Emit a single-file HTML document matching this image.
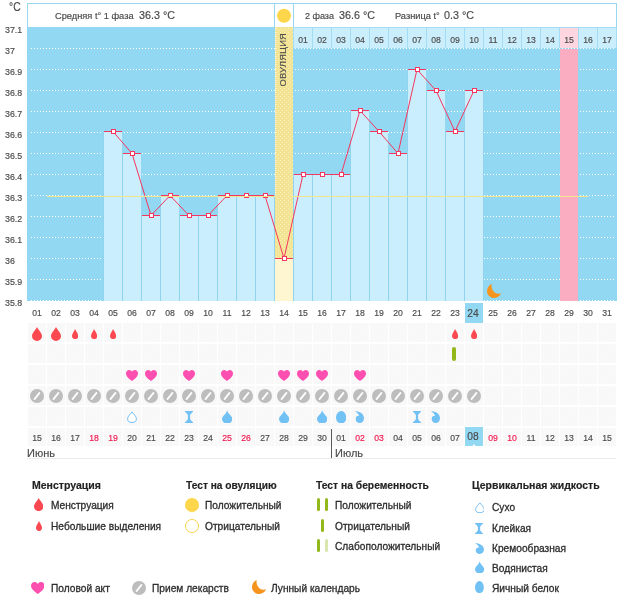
<!DOCTYPE html>
<html><head><meta charset="utf-8"><title>chart</title>
<style>
html,body{margin:0;padding:0;background:#fff;}
body{width:626px;height:595px;position:relative;overflow:hidden;font-family:"Liberation Sans",sans-serif;}
</style></head><body>
<svg width="626" height="595" viewBox="0 0 626 595" style="position:absolute;left:0;top:0" shape-rendering="crispEdges">
<defs>
<pattern id="ovd" width="4" height="4" patternUnits="userSpaceOnUse"><rect width="4" height="4" fill="#f3e493"/><rect x="0" y="0" width="1" height="1" fill="#f9f0c4"/><rect x="2" y="2" width="1" height="1" fill="#f9f0c4"/></pattern>
<pattern id="bard" width="4" height="4" patternUnits="userSpaceOnUse"><rect width="4" height="4" fill="#cbeefc"/><rect x="1" y="1" width="1" height="1" fill="#c7ecfb"/><rect x="3" y="3" width="1" height="1" fill="#c7ecfb"/></pattern>
<pattern id="hatch" width="3" height="3" patternUnits="userSpaceOnUse"><rect width="3" height="3" fill="#f7f7f7"/><rect x="0" y="2" width="1" height="1" fill="#fbfbfb"/><rect x="1" y="1" width="1" height="1" fill="#fbfbfb"/><rect x="2" y="0" width="1" height="1" fill="#fbfbfb"/></pattern>
</defs>
<rect x="27.5" y="3.5" width="589" height="24" fill="#fff" stroke="#97d7f2" stroke-width="1"/>
<rect x="27" y="27" width="590" height="274" fill="#93d8f3"/>
<rect x="616" y="27" width="1" height="21" fill="#a4dcf4"/>
<rect x="293" y="27" width="19" height="21" fill="#a4dcf4"/>
<rect x="294" y="28" width="18" height="20" fill="#cbeefc"/>
<rect x="312" y="27" width="19" height="21" fill="#a4dcf4"/>
<rect x="313" y="28" width="18" height="20" fill="#cbeefc"/>
<rect x="331" y="27" width="19" height="21" fill="#a4dcf4"/>
<rect x="332" y="28" width="18" height="20" fill="#cbeefc"/>
<rect x="350" y="27" width="19" height="21" fill="#a4dcf4"/>
<rect x="351" y="28" width="18" height="20" fill="#cbeefc"/>
<rect x="369" y="27" width="19" height="21" fill="#a4dcf4"/>
<rect x="370" y="28" width="18" height="20" fill="#cbeefc"/>
<rect x="388" y="27" width="19" height="21" fill="#a4dcf4"/>
<rect x="389" y="28" width="18" height="20" fill="#cbeefc"/>
<rect x="407" y="27" width="19" height="21" fill="#a4dcf4"/>
<rect x="408" y="28" width="18" height="20" fill="#cbeefc"/>
<rect x="426" y="27" width="19" height="21" fill="#a4dcf4"/>
<rect x="427" y="28" width="18" height="20" fill="#cbeefc"/>
<rect x="445" y="27" width="19" height="21" fill="#a4dcf4"/>
<rect x="446" y="28" width="18" height="20" fill="#cbeefc"/>
<rect x="464" y="27" width="19" height="21" fill="#a4dcf4"/>
<rect x="465" y="28" width="18" height="20" fill="#cbeefc"/>
<rect x="483" y="27" width="19" height="21" fill="#a4dcf4"/>
<rect x="484" y="28" width="18" height="20" fill="#cbeefc"/>
<rect x="502" y="27" width="19" height="21" fill="#a4dcf4"/>
<rect x="503" y="28" width="18" height="20" fill="#cbeefc"/>
<rect x="521" y="27" width="19" height="21" fill="#a4dcf4"/>
<rect x="522" y="28" width="18" height="20" fill="#cbeefc"/>
<rect x="540" y="27" width="19" height="21" fill="#a4dcf4"/>
<rect x="541" y="28" width="18" height="20" fill="#cbeefc"/>
<rect x="559" y="27" width="19" height="21" fill="#a4dcf4"/>
<rect x="560" y="28" width="18" height="20" fill="#fdd6df"/>
<rect x="578" y="27" width="19" height="21" fill="#a4dcf4"/>
<rect x="579" y="28" width="18" height="20" fill="#cbeefc"/>
<rect x="597" y="27" width="19" height="21" fill="#a4dcf4"/>
<rect x="598" y="28" width="18" height="20" fill="#cbeefc"/>
<line x1="31" x2="615" y1="48.5" y2="48.5" stroke="#fff" stroke-width="1" stroke-dasharray="1 2"/>
<line x1="31" x2="615" y1="69.5" y2="69.5" stroke="#fff" stroke-width="1" stroke-dasharray="1 2"/>
<line x1="31" x2="615" y1="90.5" y2="90.5" stroke="#fff" stroke-width="1" stroke-dasharray="1 2"/>
<line x1="31" x2="615" y1="111.5" y2="111.5" stroke="#fff" stroke-width="1" stroke-dasharray="1 2"/>
<line x1="31" x2="615" y1="132.5" y2="132.5" stroke="#fff" stroke-width="1" stroke-dasharray="1 2"/>
<line x1="31" x2="615" y1="153.5" y2="153.5" stroke="#fff" stroke-width="1" stroke-dasharray="1 2"/>
<line x1="31" x2="615" y1="174.5" y2="174.5" stroke="#fff" stroke-width="1" stroke-dasharray="1 2"/>
<line x1="31" x2="615" y1="195.5" y2="195.5" stroke="#fff" stroke-width="1" stroke-dasharray="1 2"/>
<line x1="31" x2="615" y1="216.5" y2="216.5" stroke="#fff" stroke-width="1" stroke-dasharray="1 2"/>
<line x1="31" x2="615" y1="237.5" y2="237.5" stroke="#fff" stroke-width="1" stroke-dasharray="1 2"/>
<line x1="31" x2="615" y1="258.5" y2="258.5" stroke="#fff" stroke-width="1" stroke-dasharray="1 2"/>
<line x1="31" x2="615" y1="279.5" y2="279.5" stroke="#fff" stroke-width="1" stroke-dasharray="1 2"/>
<line x1="31" x2="615" y1="300.5" y2="300.5" stroke="#fff" stroke-width="1" stroke-dasharray="1 2"/>
<rect x="560" y="49" width="18" height="252" fill="#faadc1"/>
<rect x="103" y="131" width="1" height="170" fill="#8fd3ee"/>
<rect x="104" y="131" width="18" height="170" fill="url(#bard)"/>
<rect x="122" y="153" width="1" height="148" fill="#8fd3ee"/>
<rect x="123" y="153" width="18" height="148" fill="url(#bard)"/>
<rect x="141" y="215" width="1" height="86" fill="#8fd3ee"/>
<rect x="142" y="215" width="18" height="86" fill="url(#bard)"/>
<rect x="160" y="195" width="1" height="106" fill="#8fd3ee"/>
<rect x="161" y="195" width="18" height="106" fill="url(#bard)"/>
<rect x="179" y="215" width="1" height="86" fill="#8fd3ee"/>
<rect x="180" y="215" width="18" height="86" fill="url(#bard)"/>
<rect x="198" y="215" width="1" height="86" fill="#8fd3ee"/>
<rect x="199" y="215" width="18" height="86" fill="url(#bard)"/>
<rect x="217" y="195" width="1" height="106" fill="#8fd3ee"/>
<rect x="218" y="195" width="18" height="106" fill="url(#bard)"/>
<rect x="236" y="195" width="1" height="106" fill="#8fd3ee"/>
<rect x="237" y="195" width="18" height="106" fill="url(#bard)"/>
<rect x="255" y="195" width="1" height="106" fill="#8fd3ee"/>
<rect x="256" y="195" width="18" height="106" fill="url(#bard)"/>
<rect x="293" y="174" width="1" height="127" fill="#8fd3ee"/>
<rect x="294" y="174" width="18" height="127" fill="url(#bard)"/>
<rect x="312" y="174" width="1" height="127" fill="#8fd3ee"/>
<rect x="313" y="174" width="18" height="127" fill="url(#bard)"/>
<rect x="331" y="174" width="1" height="127" fill="#8fd3ee"/>
<rect x="332" y="174" width="18" height="127" fill="url(#bard)"/>
<rect x="350" y="110" width="1" height="191" fill="#8fd3ee"/>
<rect x="351" y="110" width="18" height="191" fill="url(#bard)"/>
<rect x="369" y="131" width="1" height="170" fill="#8fd3ee"/>
<rect x="370" y="131" width="18" height="170" fill="url(#bard)"/>
<rect x="388" y="153" width="1" height="148" fill="#8fd3ee"/>
<rect x="389" y="153" width="18" height="148" fill="url(#bard)"/>
<rect x="407" y="69" width="1" height="232" fill="#8fd3ee"/>
<rect x="408" y="69" width="18" height="232" fill="url(#bard)"/>
<rect x="426" y="90" width="1" height="211" fill="#8fd3ee"/>
<rect x="427" y="90" width="18" height="211" fill="url(#bard)"/>
<rect x="445" y="131" width="1" height="170" fill="#8fd3ee"/>
<rect x="446" y="131" width="18" height="170" fill="url(#bard)"/>
<rect x="464" y="90" width="1" height="211" fill="#8fd3ee"/>
<rect x="465" y="90" width="18" height="211" fill="url(#bard)"/>
<rect x="483" y="90" width="1" height="211" fill="#8fd3ee"/>
<rect x="274" y="195" width="1" height="106" fill="#8fd3ee"/>
<rect x="275" y="4" width="18" height="23" fill="#fff"/>
<rect x="274" y="4" width="1" height="23" fill="#97d7f2"/><rect x="293" y="4" width="1" height="23" fill="#97d7f2"/>
<rect x="275" y="27" width="18" height="231" fill="url(#ovd)"/>
<rect x="275" y="258" width="18" height="43" fill="#fdf6d0"/>
<line x1="275.5" x2="275.5" y1="28" y2="195" stroke="#fbf6dc" stroke-width="1" stroke-dasharray="1 1"/>
<polyline points="113,131.5 132,153.5 151,215.5 170,195.5 189,215.5 208,215.5 227,195.5 246,195.5 265,195.5 284,258.5 303,174.5 322,174.5 341,174.5 360,110.5 379,131.5 398,153.5 417,69.5 436,90.5 455,131.5 474,90.5" fill="none" stroke="#f5365f" stroke-width="1" shape-rendering="geometricPrecision"/>
<rect x="104" y="131" width="18" height="1" fill="#f5365f"/>
<rect x="123" y="153" width="18" height="1" fill="#f5365f"/>
<rect x="142" y="215" width="18" height="1" fill="#f5365f"/>
<rect x="161" y="195" width="18" height="1" fill="#f5365f"/>
<rect x="180" y="215" width="18" height="1" fill="#f5365f"/>
<rect x="199" y="215" width="18" height="1" fill="#f5365f"/>
<rect x="218" y="195" width="18" height="1" fill="#f5365f"/>
<rect x="237" y="195" width="18" height="1" fill="#f5365f"/>
<rect x="256" y="195" width="18" height="1" fill="#f5365f"/>
<rect x="275" y="258" width="18" height="1" fill="#f5365f"/>
<rect x="294" y="174" width="18" height="1" fill="#f5365f"/>
<rect x="313" y="174" width="18" height="1" fill="#f5365f"/>
<rect x="332" y="174" width="18" height="1" fill="#f5365f"/>
<rect x="351" y="110" width="18" height="1" fill="#f5365f"/>
<rect x="370" y="131" width="18" height="1" fill="#f5365f"/>
<rect x="389" y="153" width="18" height="1" fill="#f5365f"/>
<rect x="408" y="69" width="18" height="1" fill="#f5365f"/>
<rect x="427" y="90" width="18" height="1" fill="#f5365f"/>
<rect x="446" y="131" width="18" height="1" fill="#f5365f"/>
<rect x="465" y="90" width="18" height="1" fill="#f5365f"/>
<rect x="110.5" y="129" width="5" height="5" fill="#f5365f"/><rect x="111.5" y="130" width="3" height="3" fill="#fff"/>
<rect x="129.5" y="151" width="5" height="5" fill="#f5365f"/><rect x="130.5" y="152" width="3" height="3" fill="#fff"/>
<rect x="148.5" y="213" width="5" height="5" fill="#f5365f"/><rect x="149.5" y="214" width="3" height="3" fill="#fff"/>
<rect x="167.5" y="193" width="5" height="5" fill="#f5365f"/><rect x="168.5" y="194" width="3" height="3" fill="#fff"/>
<rect x="186.5" y="213" width="5" height="5" fill="#f5365f"/><rect x="187.5" y="214" width="3" height="3" fill="#fff"/>
<rect x="205.5" y="213" width="5" height="5" fill="#f5365f"/><rect x="206.5" y="214" width="3" height="3" fill="#fff"/>
<rect x="224.5" y="193" width="5" height="5" fill="#f5365f"/><rect x="225.5" y="194" width="3" height="3" fill="#fff"/>
<rect x="243.5" y="193" width="5" height="5" fill="#f5365f"/><rect x="244.5" y="194" width="3" height="3" fill="#fff"/>
<rect x="262.5" y="193" width="5" height="5" fill="#f5365f"/><rect x="263.5" y="194" width="3" height="3" fill="#fff"/>
<rect x="281.5" y="256" width="5" height="5" fill="#f5365f"/><rect x="282.5" y="257" width="3" height="3" fill="#fff"/>
<rect x="300.5" y="172" width="5" height="5" fill="#f5365f"/><rect x="301.5" y="173" width="3" height="3" fill="#fff"/>
<rect x="319.5" y="172" width="5" height="5" fill="#f5365f"/><rect x="320.5" y="173" width="3" height="3" fill="#fff"/>
<rect x="338.5" y="172" width="5" height="5" fill="#f5365f"/><rect x="339.5" y="173" width="3" height="3" fill="#fff"/>
<rect x="357.5" y="108" width="5" height="5" fill="#f5365f"/><rect x="358.5" y="109" width="3" height="3" fill="#fff"/>
<rect x="376.5" y="129" width="5" height="5" fill="#f5365f"/><rect x="377.5" y="130" width="3" height="3" fill="#fff"/>
<rect x="395.5" y="151" width="5" height="5" fill="#f5365f"/><rect x="396.5" y="152" width="3" height="3" fill="#fff"/>
<rect x="414.5" y="67" width="5" height="5" fill="#f5365f"/><rect x="415.5" y="68" width="3" height="3" fill="#fff"/>
<rect x="433.5" y="88" width="5" height="5" fill="#f5365f"/><rect x="434.5" y="89" width="3" height="3" fill="#fff"/>
<rect x="452.5" y="129" width="5" height="5" fill="#f5365f"/><rect x="453.5" y="130" width="3" height="3" fill="#fff"/>
<rect x="471.5" y="88" width="5" height="5" fill="#f5365f"/><rect x="472.5" y="89" width="3" height="3" fill="#fff"/>
<rect x="47" y="196" width="228" height="1" fill="#f2e58c"/><rect x="293" y="196" width="295" height="1" fill="#f2e58c"/>
<circle cx="284" cy="15.7" r="7" fill="#fdd64b" shape-rendering="geometricPrecision"/>
<rect x="465" y="303" width="18" height="20" fill="#93d8f3"/>
<rect x="28" y="323" width="18" height="19" fill="url(#hatch)"/>
<rect x="47" y="323" width="18" height="19" fill="url(#hatch)"/>
<rect x="66" y="323" width="18" height="19" fill="url(#hatch)"/>
<rect x="85" y="323" width="18" height="19" fill="url(#hatch)"/>
<rect x="104" y="323" width="18" height="19" fill="url(#hatch)"/>
<rect x="123" y="323" width="18" height="19" fill="url(#hatch)"/>
<rect x="142" y="323" width="18" height="19" fill="url(#hatch)"/>
<rect x="161" y="323" width="18" height="19" fill="url(#hatch)"/>
<rect x="180" y="323" width="18" height="19" fill="url(#hatch)"/>
<rect x="199" y="323" width="18" height="19" fill="url(#hatch)"/>
<rect x="218" y="323" width="18" height="19" fill="url(#hatch)"/>
<rect x="237" y="323" width="18" height="19" fill="url(#hatch)"/>
<rect x="256" y="323" width="18" height="19" fill="url(#hatch)"/>
<rect x="275" y="323" width="18" height="19" fill="url(#hatch)"/>
<rect x="294" y="323" width="18" height="19" fill="url(#hatch)"/>
<rect x="313" y="323" width="18" height="19" fill="url(#hatch)"/>
<rect x="332" y="323" width="18" height="19" fill="url(#hatch)"/>
<rect x="351" y="323" width="18" height="19" fill="url(#hatch)"/>
<rect x="370" y="323" width="18" height="19" fill="url(#hatch)"/>
<rect x="389" y="323" width="18" height="19" fill="url(#hatch)"/>
<rect x="408" y="323" width="18" height="19" fill="url(#hatch)"/>
<rect x="427" y="323" width="18" height="19" fill="url(#hatch)"/>
<rect x="446" y="323" width="18" height="19" fill="url(#hatch)"/>
<rect x="465" y="323" width="18" height="19" fill="url(#hatch)"/>
<rect x="484" y="323" width="18" height="19" fill="url(#hatch)"/>
<rect x="503" y="323" width="18" height="19" fill="url(#hatch)"/>
<rect x="522" y="323" width="18" height="19" fill="url(#hatch)"/>
<rect x="541" y="323" width="18" height="19" fill="url(#hatch)"/>
<rect x="560" y="323" width="18" height="19" fill="url(#hatch)"/>
<rect x="579" y="323" width="18" height="19" fill="url(#hatch)"/>
<rect x="598" y="323" width="18" height="19" fill="url(#hatch)"/>
<rect x="28" y="344" width="18" height="19" fill="url(#hatch)"/>
<rect x="47" y="344" width="18" height="19" fill="url(#hatch)"/>
<rect x="66" y="344" width="18" height="19" fill="url(#hatch)"/>
<rect x="85" y="344" width="18" height="19" fill="url(#hatch)"/>
<rect x="104" y="344" width="18" height="19" fill="url(#hatch)"/>
<rect x="123" y="344" width="18" height="19" fill="url(#hatch)"/>
<rect x="142" y="344" width="18" height="19" fill="url(#hatch)"/>
<rect x="161" y="344" width="18" height="19" fill="url(#hatch)"/>
<rect x="180" y="344" width="18" height="19" fill="url(#hatch)"/>
<rect x="199" y="344" width="18" height="19" fill="url(#hatch)"/>
<rect x="218" y="344" width="18" height="19" fill="url(#hatch)"/>
<rect x="237" y="344" width="18" height="19" fill="url(#hatch)"/>
<rect x="256" y="344" width="18" height="19" fill="url(#hatch)"/>
<rect x="275" y="344" width="18" height="19" fill="url(#hatch)"/>
<rect x="294" y="344" width="18" height="19" fill="url(#hatch)"/>
<rect x="313" y="344" width="18" height="19" fill="url(#hatch)"/>
<rect x="332" y="344" width="18" height="19" fill="url(#hatch)"/>
<rect x="351" y="344" width="18" height="19" fill="url(#hatch)"/>
<rect x="370" y="344" width="18" height="19" fill="url(#hatch)"/>
<rect x="389" y="344" width="18" height="19" fill="url(#hatch)"/>
<rect x="408" y="344" width="18" height="19" fill="url(#hatch)"/>
<rect x="427" y="344" width="18" height="19" fill="url(#hatch)"/>
<rect x="446" y="344" width="18" height="19" fill="url(#hatch)"/>
<rect x="465" y="344" width="18" height="19" fill="url(#hatch)"/>
<rect x="484" y="344" width="18" height="19" fill="url(#hatch)"/>
<rect x="503" y="344" width="18" height="19" fill="url(#hatch)"/>
<rect x="522" y="344" width="18" height="19" fill="url(#hatch)"/>
<rect x="541" y="344" width="18" height="19" fill="url(#hatch)"/>
<rect x="560" y="344" width="18" height="19" fill="url(#hatch)"/>
<rect x="579" y="344" width="18" height="19" fill="url(#hatch)"/>
<rect x="598" y="344" width="18" height="19" fill="url(#hatch)"/>
<rect x="28" y="365" width="18" height="19" fill="url(#hatch)"/>
<rect x="47" y="365" width="18" height="19" fill="url(#hatch)"/>
<rect x="66" y="365" width="18" height="19" fill="url(#hatch)"/>
<rect x="85" y="365" width="18" height="19" fill="url(#hatch)"/>
<rect x="104" y="365" width="18" height="19" fill="url(#hatch)"/>
<rect x="123" y="365" width="18" height="19" fill="url(#hatch)"/>
<rect x="142" y="365" width="18" height="19" fill="url(#hatch)"/>
<rect x="161" y="365" width="18" height="19" fill="url(#hatch)"/>
<rect x="180" y="365" width="18" height="19" fill="url(#hatch)"/>
<rect x="199" y="365" width="18" height="19" fill="url(#hatch)"/>
<rect x="218" y="365" width="18" height="19" fill="url(#hatch)"/>
<rect x="237" y="365" width="18" height="19" fill="url(#hatch)"/>
<rect x="256" y="365" width="18" height="19" fill="url(#hatch)"/>
<rect x="275" y="365" width="18" height="19" fill="url(#hatch)"/>
<rect x="294" y="365" width="18" height="19" fill="url(#hatch)"/>
<rect x="313" y="365" width="18" height="19" fill="url(#hatch)"/>
<rect x="332" y="365" width="18" height="19" fill="url(#hatch)"/>
<rect x="351" y="365" width="18" height="19" fill="url(#hatch)"/>
<rect x="370" y="365" width="18" height="19" fill="url(#hatch)"/>
<rect x="389" y="365" width="18" height="19" fill="url(#hatch)"/>
<rect x="408" y="365" width="18" height="19" fill="url(#hatch)"/>
<rect x="427" y="365" width="18" height="19" fill="url(#hatch)"/>
<rect x="446" y="365" width="18" height="19" fill="url(#hatch)"/>
<rect x="465" y="365" width="18" height="19" fill="url(#hatch)"/>
<rect x="484" y="365" width="18" height="19" fill="url(#hatch)"/>
<rect x="503" y="365" width="18" height="19" fill="url(#hatch)"/>
<rect x="522" y="365" width="18" height="19" fill="url(#hatch)"/>
<rect x="541" y="365" width="18" height="19" fill="url(#hatch)"/>
<rect x="560" y="365" width="18" height="19" fill="url(#hatch)"/>
<rect x="579" y="365" width="18" height="19" fill="url(#hatch)"/>
<rect x="598" y="365" width="18" height="19" fill="url(#hatch)"/>
<rect x="28" y="386" width="18" height="19" fill="url(#hatch)"/>
<rect x="47" y="386" width="18" height="19" fill="url(#hatch)"/>
<rect x="66" y="386" width="18" height="19" fill="url(#hatch)"/>
<rect x="85" y="386" width="18" height="19" fill="url(#hatch)"/>
<rect x="104" y="386" width="18" height="19" fill="url(#hatch)"/>
<rect x="123" y="386" width="18" height="19" fill="url(#hatch)"/>
<rect x="142" y="386" width="18" height="19" fill="url(#hatch)"/>
<rect x="161" y="386" width="18" height="19" fill="url(#hatch)"/>
<rect x="180" y="386" width="18" height="19" fill="url(#hatch)"/>
<rect x="199" y="386" width="18" height="19" fill="url(#hatch)"/>
<rect x="218" y="386" width="18" height="19" fill="url(#hatch)"/>
<rect x="237" y="386" width="18" height="19" fill="url(#hatch)"/>
<rect x="256" y="386" width="18" height="19" fill="url(#hatch)"/>
<rect x="275" y="386" width="18" height="19" fill="url(#hatch)"/>
<rect x="294" y="386" width="18" height="19" fill="url(#hatch)"/>
<rect x="313" y="386" width="18" height="19" fill="url(#hatch)"/>
<rect x="332" y="386" width="18" height="19" fill="url(#hatch)"/>
<rect x="351" y="386" width="18" height="19" fill="url(#hatch)"/>
<rect x="370" y="386" width="18" height="19" fill="url(#hatch)"/>
<rect x="389" y="386" width="18" height="19" fill="url(#hatch)"/>
<rect x="408" y="386" width="18" height="19" fill="url(#hatch)"/>
<rect x="427" y="386" width="18" height="19" fill="url(#hatch)"/>
<rect x="446" y="386" width="18" height="19" fill="url(#hatch)"/>
<rect x="465" y="386" width="18" height="19" fill="url(#hatch)"/>
<rect x="484" y="386" width="18" height="19" fill="url(#hatch)"/>
<rect x="503" y="386" width="18" height="19" fill="url(#hatch)"/>
<rect x="522" y="386" width="18" height="19" fill="url(#hatch)"/>
<rect x="541" y="386" width="18" height="19" fill="url(#hatch)"/>
<rect x="560" y="386" width="18" height="19" fill="url(#hatch)"/>
<rect x="579" y="386" width="18" height="19" fill="url(#hatch)"/>
<rect x="598" y="386" width="18" height="19" fill="url(#hatch)"/>
<rect x="28" y="407" width="18" height="19" fill="url(#hatch)"/>
<rect x="47" y="407" width="18" height="19" fill="url(#hatch)"/>
<rect x="66" y="407" width="18" height="19" fill="url(#hatch)"/>
<rect x="85" y="407" width="18" height="19" fill="url(#hatch)"/>
<rect x="104" y="407" width="18" height="19" fill="url(#hatch)"/>
<rect x="123" y="407" width="18" height="19" fill="url(#hatch)"/>
<rect x="142" y="407" width="18" height="19" fill="url(#hatch)"/>
<rect x="161" y="407" width="18" height="19" fill="url(#hatch)"/>
<rect x="180" y="407" width="18" height="19" fill="url(#hatch)"/>
<rect x="199" y="407" width="18" height="19" fill="url(#hatch)"/>
<rect x="218" y="407" width="18" height="19" fill="url(#hatch)"/>
<rect x="237" y="407" width="18" height="19" fill="url(#hatch)"/>
<rect x="256" y="407" width="18" height="19" fill="url(#hatch)"/>
<rect x="275" y="407" width="18" height="19" fill="url(#hatch)"/>
<rect x="294" y="407" width="18" height="19" fill="url(#hatch)"/>
<rect x="313" y="407" width="18" height="19" fill="url(#hatch)"/>
<rect x="332" y="407" width="18" height="19" fill="url(#hatch)"/>
<rect x="351" y="407" width="18" height="19" fill="url(#hatch)"/>
<rect x="370" y="407" width="18" height="19" fill="url(#hatch)"/>
<rect x="389" y="407" width="18" height="19" fill="url(#hatch)"/>
<rect x="408" y="407" width="18" height="19" fill="url(#hatch)"/>
<rect x="427" y="407" width="18" height="19" fill="url(#hatch)"/>
<rect x="446" y="407" width="18" height="19" fill="url(#hatch)"/>
<rect x="465" y="407" width="18" height="19" fill="url(#hatch)"/>
<rect x="484" y="407" width="18" height="19" fill="url(#hatch)"/>
<rect x="503" y="407" width="18" height="19" fill="url(#hatch)"/>
<rect x="522" y="407" width="18" height="19" fill="url(#hatch)"/>
<rect x="541" y="407" width="18" height="19" fill="url(#hatch)"/>
<rect x="560" y="407" width="18" height="19" fill="url(#hatch)"/>
<rect x="579" y="407" width="18" height="19" fill="url(#hatch)"/>
<rect x="598" y="407" width="18" height="19" fill="url(#hatch)"/>
<rect x="28" y="428" width="18" height="18" fill="url(#hatch)"/>
<rect x="47" y="428" width="18" height="18" fill="url(#hatch)"/>
<rect x="66" y="428" width="18" height="18" fill="url(#hatch)"/>
<rect x="85" y="428" width="18" height="18" fill="url(#hatch)"/>
<rect x="104" y="428" width="18" height="18" fill="url(#hatch)"/>
<rect x="123" y="428" width="18" height="18" fill="url(#hatch)"/>
<rect x="142" y="428" width="18" height="18" fill="url(#hatch)"/>
<rect x="161" y="428" width="18" height="18" fill="url(#hatch)"/>
<rect x="180" y="428" width="18" height="18" fill="url(#hatch)"/>
<rect x="199" y="428" width="18" height="18" fill="url(#hatch)"/>
<rect x="218" y="428" width="18" height="18" fill="url(#hatch)"/>
<rect x="237" y="428" width="18" height="18" fill="url(#hatch)"/>
<rect x="256" y="428" width="18" height="18" fill="url(#hatch)"/>
<rect x="275" y="428" width="18" height="18" fill="url(#hatch)"/>
<rect x="294" y="428" width="18" height="18" fill="url(#hatch)"/>
<rect x="313" y="428" width="18" height="18" fill="url(#hatch)"/>
<rect x="332" y="428" width="18" height="18" fill="url(#hatch)"/>
<rect x="351" y="428" width="18" height="18" fill="url(#hatch)"/>
<rect x="370" y="428" width="18" height="18" fill="url(#hatch)"/>
<rect x="389" y="428" width="18" height="18" fill="url(#hatch)"/>
<rect x="408" y="428" width="18" height="18" fill="url(#hatch)"/>
<rect x="427" y="428" width="18" height="18" fill="url(#hatch)"/>
<rect x="446" y="428" width="18" height="18" fill="url(#hatch)"/>
<rect x="465" y="428" width="18" height="18" fill="url(#hatch)"/>
<rect x="484" y="428" width="18" height="18" fill="url(#hatch)"/>
<rect x="503" y="428" width="18" height="18" fill="url(#hatch)"/>
<rect x="522" y="428" width="18" height="18" fill="url(#hatch)"/>
<rect x="541" y="428" width="18" height="18" fill="url(#hatch)"/>
<rect x="560" y="428" width="18" height="18" fill="url(#hatch)"/>
<rect x="579" y="428" width="18" height="18" fill="url(#hatch)"/>
<rect x="598" y="428" width="18" height="18" fill="url(#hatch)"/>
<rect x="465" y="427" width="18" height="19" fill="#93d8f3"/>
<path d="M472.5,446 l1.5,-2 l1.5,2 z" fill="#fff" shape-rendering="geometricPrecision"/>
<rect x="27" y="458" width="589" height="1" fill="#ebebeb"/>
<rect x="331" y="429" width="1" height="29" fill="#5a5a5a"/>
</svg>
<svg style="position:absolute;left:32px;top:327px" width="10" height="14" viewBox="0 0 10 14" preserveAspectRatio="none"><path d="M5,0 C6.5,3 10,6.2 10,9 A5,5 0 0 1 0,9 C0,6.2 3.5,3 5,0 Z" fill="#fc4850"/></svg>
<svg style="position:absolute;left:51px;top:327px" width="10" height="14" viewBox="0 0 10 14" preserveAspectRatio="none"><path d="M5,0 C6.5,3 10,6.2 10,9 A5,5 0 0 1 0,9 C0,6.2 3.5,3 5,0 Z" fill="#fc4850"/></svg>
<svg style="position:absolute;left:72px;top:328.8px" width="6.2" height="10.2" viewBox="0 0 6 10" preserveAspectRatio="none"><path d="M3,0 C4,2.2 6,4.6 6,6.8 A3,3.1 0 0 1 0,6.8 C0,4.6 2,2.2 3,0 Z" fill="#fc4850"/></svg>
<svg style="position:absolute;left:91px;top:328.8px" width="6.2" height="10.2" viewBox="0 0 6 10" preserveAspectRatio="none"><path d="M3,0 C4,2.2 6,4.6 6,6.8 A3,3.1 0 0 1 0,6.8 C0,4.6 2,2.2 3,0 Z" fill="#fc4850"/></svg>
<svg style="position:absolute;left:110px;top:328.8px" width="6.2" height="10.2" viewBox="0 0 6 10" preserveAspectRatio="none"><path d="M3,0 C4,2.2 6,4.6 6,6.8 A3,3.1 0 0 1 0,6.8 C0,4.6 2,2.2 3,0 Z" fill="#fc4850"/></svg>
<svg style="position:absolute;left:452px;top:328.8px" width="6.2" height="10.2" viewBox="0 0 6 10" preserveAspectRatio="none"><path d="M3,0 C4,2.2 6,4.6 6,6.8 A3,3.1 0 0 1 0,6.8 C0,4.6 2,2.2 3,0 Z" fill="#fc4850"/></svg>
<svg style="position:absolute;left:471px;top:328.8px" width="6.2" height="10.2" viewBox="0 0 6 10" preserveAspectRatio="none"><path d="M3,0 C4,2.2 6,4.6 6,6.8 A3,3.1 0 0 1 0,6.8 C0,4.6 2,2.2 3,0 Z" fill="#fc4850"/></svg>
<div style="position:absolute;left:452px;top:347px;width:4px;height:14px;border-radius:2px;background:#93b81b"></div>
<svg style="position:absolute;left:126px;top:370px" width="12" height="11" viewBox="0 0 12 11" preserveAspectRatio="none"><path d="M6,11 C3.5,9 0,6.5 0,3.4 C0,1.3 1.5,0 3.2,0 C4.4,0 5.5,0.7 6,1.8 C6.5,0.7 7.6,0 8.8,0 C10.5,0 12,1.3 12,3.4 C12,6.5 8.5,9 6,11 Z" fill="#fd4fb0"/></svg>
<svg style="position:absolute;left:145px;top:370px" width="12" height="11" viewBox="0 0 12 11" preserveAspectRatio="none"><path d="M6,11 C3.5,9 0,6.5 0,3.4 C0,1.3 1.5,0 3.2,0 C4.4,0 5.5,0.7 6,1.8 C6.5,0.7 7.6,0 8.8,0 C10.5,0 12,1.3 12,3.4 C12,6.5 8.5,9 6,11 Z" fill="#fd4fb0"/></svg>
<svg style="position:absolute;left:183px;top:370px" width="12" height="11" viewBox="0 0 12 11" preserveAspectRatio="none"><path d="M6,11 C3.5,9 0,6.5 0,3.4 C0,1.3 1.5,0 3.2,0 C4.4,0 5.5,0.7 6,1.8 C6.5,0.7 7.6,0 8.8,0 C10.5,0 12,1.3 12,3.4 C12,6.5 8.5,9 6,11 Z" fill="#fd4fb0"/></svg>
<svg style="position:absolute;left:221px;top:370px" width="12" height="11" viewBox="0 0 12 11" preserveAspectRatio="none"><path d="M6,11 C3.5,9 0,6.5 0,3.4 C0,1.3 1.5,0 3.2,0 C4.4,0 5.5,0.7 6,1.8 C6.5,0.7 7.6,0 8.8,0 C10.5,0 12,1.3 12,3.4 C12,6.5 8.5,9 6,11 Z" fill="#fd4fb0"/></svg>
<svg style="position:absolute;left:278px;top:370px" width="12" height="11" viewBox="0 0 12 11" preserveAspectRatio="none"><path d="M6,11 C3.5,9 0,6.5 0,3.4 C0,1.3 1.5,0 3.2,0 C4.4,0 5.5,0.7 6,1.8 C6.5,0.7 7.6,0 8.8,0 C10.5,0 12,1.3 12,3.4 C12,6.5 8.5,9 6,11 Z" fill="#fd4fb0"/></svg>
<svg style="position:absolute;left:297px;top:370px" width="12" height="11" viewBox="0 0 12 11" preserveAspectRatio="none"><path d="M6,11 C3.5,9 0,6.5 0,3.4 C0,1.3 1.5,0 3.2,0 C4.4,0 5.5,0.7 6,1.8 C6.5,0.7 7.6,0 8.8,0 C10.5,0 12,1.3 12,3.4 C12,6.5 8.5,9 6,11 Z" fill="#fd4fb0"/></svg>
<svg style="position:absolute;left:316px;top:370px" width="12" height="11" viewBox="0 0 12 11" preserveAspectRatio="none"><path d="M6,11 C3.5,9 0,6.5 0,3.4 C0,1.3 1.5,0 3.2,0 C4.4,0 5.5,0.7 6,1.8 C6.5,0.7 7.6,0 8.8,0 C10.5,0 12,1.3 12,3.4 C12,6.5 8.5,9 6,11 Z" fill="#fd4fb0"/></svg>
<svg style="position:absolute;left:354px;top:370px" width="12" height="11" viewBox="0 0 12 11" preserveAspectRatio="none"><path d="M6,11 C3.5,9 0,6.5 0,3.4 C0,1.3 1.5,0 3.2,0 C4.4,0 5.5,0.7 6,1.8 C6.5,0.7 7.6,0 8.8,0 C10.5,0 12,1.3 12,3.4 C12,6.5 8.5,9 6,11 Z" fill="#fd4fb0"/></svg>
<svg style="position:absolute;left:30px;top:389px" width="14" height="14" viewBox="0 0 14 14" preserveAspectRatio="none"><circle cx="7" cy="7" r="7" fill="#bdbdbd"/><line x1="4.6" y1="10" x2="9.4" y2="4" stroke="#fff" stroke-width="2" stroke-linecap="round"/></svg>
<svg style="position:absolute;left:49px;top:389px" width="14" height="14" viewBox="0 0 14 14" preserveAspectRatio="none"><circle cx="7" cy="7" r="7" fill="#bdbdbd"/><line x1="4.6" y1="10" x2="9.4" y2="4" stroke="#fff" stroke-width="2" stroke-linecap="round"/></svg>
<svg style="position:absolute;left:68px;top:389px" width="14" height="14" viewBox="0 0 14 14" preserveAspectRatio="none"><circle cx="7" cy="7" r="7" fill="#bdbdbd"/><line x1="4.6" y1="10" x2="9.4" y2="4" stroke="#fff" stroke-width="2" stroke-linecap="round"/></svg>
<svg style="position:absolute;left:87px;top:389px" width="14" height="14" viewBox="0 0 14 14" preserveAspectRatio="none"><circle cx="7" cy="7" r="7" fill="#bdbdbd"/><line x1="4.6" y1="10" x2="9.4" y2="4" stroke="#fff" stroke-width="2" stroke-linecap="round"/></svg>
<svg style="position:absolute;left:106px;top:389px" width="14" height="14" viewBox="0 0 14 14" preserveAspectRatio="none"><circle cx="7" cy="7" r="7" fill="#bdbdbd"/><line x1="4.6" y1="10" x2="9.4" y2="4" stroke="#fff" stroke-width="2" stroke-linecap="round"/></svg>
<svg style="position:absolute;left:125px;top:389px" width="14" height="14" viewBox="0 0 14 14" preserveAspectRatio="none"><circle cx="7" cy="7" r="7" fill="#bdbdbd"/><line x1="4.6" y1="10" x2="9.4" y2="4" stroke="#fff" stroke-width="2" stroke-linecap="round"/></svg>
<svg style="position:absolute;left:144px;top:389px" width="14" height="14" viewBox="0 0 14 14" preserveAspectRatio="none"><circle cx="7" cy="7" r="7" fill="#bdbdbd"/><line x1="4.6" y1="10" x2="9.4" y2="4" stroke="#fff" stroke-width="2" stroke-linecap="round"/></svg>
<svg style="position:absolute;left:163px;top:389px" width="14" height="14" viewBox="0 0 14 14" preserveAspectRatio="none"><circle cx="7" cy="7" r="7" fill="#bdbdbd"/><line x1="4.6" y1="10" x2="9.4" y2="4" stroke="#fff" stroke-width="2" stroke-linecap="round"/></svg>
<svg style="position:absolute;left:182px;top:389px" width="14" height="14" viewBox="0 0 14 14" preserveAspectRatio="none"><circle cx="7" cy="7" r="7" fill="#bdbdbd"/><line x1="4.6" y1="10" x2="9.4" y2="4" stroke="#fff" stroke-width="2" stroke-linecap="round"/></svg>
<svg style="position:absolute;left:201px;top:389px" width="14" height="14" viewBox="0 0 14 14" preserveAspectRatio="none"><circle cx="7" cy="7" r="7" fill="#bdbdbd"/><line x1="4.6" y1="10" x2="9.4" y2="4" stroke="#fff" stroke-width="2" stroke-linecap="round"/></svg>
<svg style="position:absolute;left:220px;top:389px" width="14" height="14" viewBox="0 0 14 14" preserveAspectRatio="none"><circle cx="7" cy="7" r="7" fill="#bdbdbd"/><line x1="4.6" y1="10" x2="9.4" y2="4" stroke="#fff" stroke-width="2" stroke-linecap="round"/></svg>
<svg style="position:absolute;left:239px;top:389px" width="14" height="14" viewBox="0 0 14 14" preserveAspectRatio="none"><circle cx="7" cy="7" r="7" fill="#bdbdbd"/><line x1="4.6" y1="10" x2="9.4" y2="4" stroke="#fff" stroke-width="2" stroke-linecap="round"/></svg>
<svg style="position:absolute;left:258px;top:389px" width="14" height="14" viewBox="0 0 14 14" preserveAspectRatio="none"><circle cx="7" cy="7" r="7" fill="#bdbdbd"/><line x1="4.6" y1="10" x2="9.4" y2="4" stroke="#fff" stroke-width="2" stroke-linecap="round"/></svg>
<svg style="position:absolute;left:277px;top:389px" width="14" height="14" viewBox="0 0 14 14" preserveAspectRatio="none"><circle cx="7" cy="7" r="7" fill="#bdbdbd"/><line x1="4.6" y1="10" x2="9.4" y2="4" stroke="#fff" stroke-width="2" stroke-linecap="round"/></svg>
<svg style="position:absolute;left:296px;top:389px" width="14" height="14" viewBox="0 0 14 14" preserveAspectRatio="none"><circle cx="7" cy="7" r="7" fill="#bdbdbd"/><line x1="4.6" y1="10" x2="9.4" y2="4" stroke="#fff" stroke-width="2" stroke-linecap="round"/></svg>
<svg style="position:absolute;left:315px;top:389px" width="14" height="14" viewBox="0 0 14 14" preserveAspectRatio="none"><circle cx="7" cy="7" r="7" fill="#bdbdbd"/><line x1="4.6" y1="10" x2="9.4" y2="4" stroke="#fff" stroke-width="2" stroke-linecap="round"/></svg>
<svg style="position:absolute;left:334px;top:389px" width="14" height="14" viewBox="0 0 14 14" preserveAspectRatio="none"><circle cx="7" cy="7" r="7" fill="#bdbdbd"/><line x1="4.6" y1="10" x2="9.4" y2="4" stroke="#fff" stroke-width="2" stroke-linecap="round"/></svg>
<svg style="position:absolute;left:353px;top:389px" width="14" height="14" viewBox="0 0 14 14" preserveAspectRatio="none"><circle cx="7" cy="7" r="7" fill="#bdbdbd"/><line x1="4.6" y1="10" x2="9.4" y2="4" stroke="#fff" stroke-width="2" stroke-linecap="round"/></svg>
<svg style="position:absolute;left:372px;top:389px" width="14" height="14" viewBox="0 0 14 14" preserveAspectRatio="none"><circle cx="7" cy="7" r="7" fill="#bdbdbd"/><line x1="4.6" y1="10" x2="9.4" y2="4" stroke="#fff" stroke-width="2" stroke-linecap="round"/></svg>
<svg style="position:absolute;left:391px;top:389px" width="14" height="14" viewBox="0 0 14 14" preserveAspectRatio="none"><circle cx="7" cy="7" r="7" fill="#bdbdbd"/><line x1="4.6" y1="10" x2="9.4" y2="4" stroke="#fff" stroke-width="2" stroke-linecap="round"/></svg>
<svg style="position:absolute;left:410px;top:389px" width="14" height="14" viewBox="0 0 14 14" preserveAspectRatio="none"><circle cx="7" cy="7" r="7" fill="#bdbdbd"/><line x1="4.6" y1="10" x2="9.4" y2="4" stroke="#fff" stroke-width="2" stroke-linecap="round"/></svg>
<svg style="position:absolute;left:429px;top:389px" width="14" height="14" viewBox="0 0 14 14" preserveAspectRatio="none"><circle cx="7" cy="7" r="7" fill="#bdbdbd"/><line x1="4.6" y1="10" x2="9.4" y2="4" stroke="#fff" stroke-width="2" stroke-linecap="round"/></svg>
<svg style="position:absolute;left:448px;top:389px" width="14" height="14" viewBox="0 0 14 14" preserveAspectRatio="none"><circle cx="7" cy="7" r="7" fill="#bdbdbd"/><line x1="4.6" y1="10" x2="9.4" y2="4" stroke="#fff" stroke-width="2" stroke-linecap="round"/></svg>
<svg style="position:absolute;left:467px;top:389px" width="14" height="14" viewBox="0 0 14 14" preserveAspectRatio="none"><circle cx="7" cy="7" r="7" fill="#bdbdbd"/><line x1="4.6" y1="10" x2="9.4" y2="4" stroke="#fff" stroke-width="2" stroke-linecap="round"/></svg>
<svg style="position:absolute;left:127px;top:411px" width="10" height="12" viewBox="0 0 10 12" preserveAspectRatio="none"><path d="M5,0.9 C6.2,3 9.4,5.2 9.4,7.7 A4.4,3.8 0 0 1 0.6,7.7 C0.6,5.2 3.8,3 5,0.9 Z" fill="#fff" stroke="#72bdf3" stroke-width="1"/></svg>
<svg style="position:absolute;left:185px;top:411px" width="8" height="12" viewBox="0 0 8 12" preserveAspectRatio="none"><path d="M0,0 H8 V0.8 C6.6,2 5.1,3.4 5.1,4.6 V7.4 C5.1,8.6 6.6,10 8,11.2 V12 H0 V11.2 C1.4,10 2.9,8.6 2.9,7.4 V4.6 C2.9,3.4 1.4,2 0,0.8 Z" fill="#72c1f5"/></svg>
<svg style="position:absolute;left:221.8px;top:409.6px" width="10.4" height="13.6" viewBox="0 0 10 13" preserveAspectRatio="none"><path d="M5,0 C5.3,3.6 10,5.6 10,8.6 A5,4.4 0 0 1 0,8.6 C0,5.6 4.7,3.6 5,0 Z" fill="#72c1f5"/></svg>
<svg style="position:absolute;left:278.8px;top:409.6px" width="10.4" height="13.6" viewBox="0 0 10 13" preserveAspectRatio="none"><path d="M5,0 C5.3,3.6 10,5.6 10,8.6 A5,4.4 0 0 1 0,8.6 C0,5.6 4.7,3.6 5,0 Z" fill="#72c1f5"/></svg>
<svg style="position:absolute;left:316.8px;top:409.6px" width="10.4" height="13.6" viewBox="0 0 10 13" preserveAspectRatio="none"><path d="M5,0 C5.3,3.6 10,5.6 10,8.6 A5,4.4 0 0 1 0,8.6 C0,5.6 4.7,3.6 5,0 Z" fill="#72c1f5"/></svg>
<svg style="position:absolute;left:336px;top:410.8px" width="10.3" height="12.4" viewBox="0 0 10 12" preserveAspectRatio="none"><path d="M5.1,0 C7.9,0 10,3 10,6.4 C10,9.8 8,12 5,12 C2,12 0,9.8 0,6.4 C0,3 2.3,0 5.1,0 Z" fill="#72c1f5"/></svg>
<svg style="position:absolute;left:355.4px;top:411.3px" width="9" height="12" viewBox="0 -0.2 9 11.2" preserveAspectRatio="none"><path d="M0,0 C3,-0.2 9,1.5 9,6.5 C9,9.3 7,11 4.8,11 C2.5,11 0.7,9.4 0.7,7.2 C0.7,5.2 2.4,4 4.2,4.4 C3.5,2.6 2,1 0,0 Z" fill="#72c1f5"/></svg>
<svg style="position:absolute;left:413px;top:411px" width="8" height="12" viewBox="0 0 8 12" preserveAspectRatio="none"><path d="M0,0 H8 V0.8 C6.6,2 5.1,3.4 5.1,4.6 V7.4 C5.1,8.6 6.6,10 8,11.2 V12 H0 V11.2 C1.4,10 2.9,8.6 2.9,7.4 V4.6 C2.9,3.4 1.4,2 0,0.8 Z" fill="#72c1f5"/></svg>
<svg style="position:absolute;left:431.4px;top:411.3px" width="9" height="12" viewBox="0 -0.2 9 11.2" preserveAspectRatio="none"><path d="M0,0 C3,-0.2 9,1.5 9,6.5 C9,9.3 7,11 4.8,11 C2.5,11 0.7,9.4 0.7,7.2 C0.7,5.2 2.4,4 4.2,4.4 C3.5,2.6 2,1 0,0 Z" fill="#72c1f5"/></svg>
<svg style="position:absolute;left:487px;top:284px" width="14" height="14" viewBox="0 0 14 14" preserveAspectRatio="none"><path d="M4.8,0 C3.9,3.2 5.2,6.6 7.6,8.4 C9.6,9.8 12,10 14,9.3 C13,12 10.4,14 7.2,14 C3.2,14 0,10.9 0,7.2 C0,3.7 2,1 4.8,0 Z" fill="#f7941d"/></svg>
<svg style="position:absolute;left:33.9px;top:497.9px" width="9.4" height="13.1" viewBox="0 0 10 14" preserveAspectRatio="none"><path d="M5,0 C6.5,3 10,6.2 10,9 A5,5 0 0 1 0,9 C0,6.2 3.5,3 5,0 Z" fill="#fc4850"/></svg>
<svg style="position:absolute;left:35.5px;top:521px" width="6" height="10" viewBox="0 0 6 10" preserveAspectRatio="none"><path d="M3,0 C4,2.2 6,4.6 6,6.8 A3,3.1 0 0 1 0,6.8 C0,4.6 2,2.2 3,0 Z" fill="#fc4850"/></svg>
<div style="position:absolute;left:185px;top:498px;width:14px;height:14px;border-radius:7px;background:#fdd64b"></div>
<div style="position:absolute;left:185px;top:519px;width:12px;height:12px;border-radius:7px;border:1px solid #f9d44c;background:#fff"></div>
<div style="position:absolute;left:317px;top:497.8px;width:3px;height:13px;border-radius:1.5px;background:#93b81b"></div>
<div style="position:absolute;left:325px;top:497.8px;width:3px;height:13px;border-radius:1.5px;background:#93b81b"></div>
<div style="position:absolute;left:321.3px;top:518.9px;width:3px;height:13px;border-radius:1.5px;background:#93b81b"></div>
<div style="position:absolute;left:317px;top:539px;width:3px;height:13px;border-radius:1.5px;background:#93b81b"></div>
<div style="position:absolute;left:325px;top:539px;width:3px;height:13px;border-radius:1.5px;background:#d9e6b0"></div>
<svg style="position:absolute;left:474.6px;top:501.8px" width="9.8" height="11.2" viewBox="0 0 10 12" preserveAspectRatio="none"><path d="M5,0.9 C6.2,3 9.4,5.2 9.4,7.7 A4.4,3.8 0 0 1 0.6,7.7 C0.6,5.2 3.8,3 5,0.9 Z" fill="#fff" stroke="#72bdf3" stroke-width="1"/></svg>
<svg style="position:absolute;left:475.4px;top:523px" width="8" height="11" viewBox="0 0 8 12" preserveAspectRatio="none"><path d="M0,0 H8 V0.8 C6.6,2 5.1,3.4 5.1,4.6 V7.4 C5.1,8.6 6.6,10 8,11.2 V12 H0 V11.2 C1.4,10 2.9,8.6 2.9,7.4 V4.6 C2.9,3.4 1.4,2 0,0.8 Z" fill="#72c1f5"/></svg>
<svg style="position:absolute;left:475.2px;top:543px" width="9" height="11" viewBox="0 -0.2 9 11.2" preserveAspectRatio="none"><path d="M0,0 C3,-0.2 9,1.5 9,6.5 C9,9.3 7,11 4.8,11 C2.5,11 0.7,9.4 0.7,7.2 C0.7,5.2 2.4,4 4.2,4.4 C3.5,2.6 2,1 0,0 Z" fill="#72c1f5"/></svg>
<svg style="position:absolute;left:474.9px;top:560.5px" width="9.3" height="12.6" viewBox="0 0 10 13" preserveAspectRatio="none"><path d="M5,0 C5.3,3.6 10,5.6 10,8.6 A5,4.4 0 0 1 0,8.6 C0,5.6 4.7,3.6 5,0 Z" fill="#72c1f5"/></svg>
<svg style="position:absolute;left:475.2px;top:581px" width="8.8" height="12.1" viewBox="0 0 10 12" preserveAspectRatio="none"><path d="M5.1,0 C7.9,0 10,3 10,6.4 C10,9.8 8,12 5,12 C2,12 0,9.8 0,6.4 C0,3 2.3,0 5.1,0 Z" fill="#72c1f5"/></svg>
<svg style="position:absolute;left:30.7px;top:581.9px" width="13.6" height="11.9" viewBox="0 0 12 11" preserveAspectRatio="none"><path d="M6,11 C3.5,9 0,6.5 0,3.4 C0,1.3 1.5,0 3.2,0 C4.4,0 5.5,0.7 6,1.8 C6.5,0.7 7.6,0 8.8,0 C10.5,0 12,1.3 12,3.4 C12,6.5 8.5,9 6,11 Z" fill="#fd4fb0"/></svg>
<svg style="position:absolute;left:131.5px;top:581px" width="14" height="14" viewBox="0 0 14 14" preserveAspectRatio="none"><circle cx="7" cy="7" r="7" fill="#bdbdbd"/><line x1="4.6" y1="10" x2="9.4" y2="4" stroke="#fff" stroke-width="2" stroke-linecap="round"/></svg>
<svg style="position:absolute;left:251.5px;top:580px" width="14" height="14" viewBox="0 0 14 14" preserveAspectRatio="none"><path d="M4.8,0 C3.9,3.2 5.2,6.6 7.6,8.4 C9.6,9.8 12,10 14,9.3 C13,12 10.4,14 7.2,14 C3.2,14 0,10.9 0,7.2 C0,3.7 2,1 4.8,0 Z" fill="#f7941d"/></svg>
<div style="position:absolute;left:0;top:0;width:626px;height:595px;will-change:transform;-webkit-text-stroke:0.18px;">
<div style="position:absolute;left:5px;top:24.87px;font-size:9.6px;line-height:9.6px;color:#4c4c4c;white-space:nowrap;transform:scaleX(0.92);transform-origin:0 0;">37.1</div>
<div style="position:absolute;left:5px;top:45.87px;font-size:9.6px;line-height:9.6px;color:#4c4c4c;white-space:nowrap;transform:scaleX(0.92);transform-origin:0 0;">37</div>
<div style="position:absolute;left:5px;top:66.87px;font-size:9.6px;line-height:9.6px;color:#4c4c4c;white-space:nowrap;transform:scaleX(0.92);transform-origin:0 0;">36.9</div>
<div style="position:absolute;left:5px;top:87.87px;font-size:9.6px;line-height:9.6px;color:#4c4c4c;white-space:nowrap;transform:scaleX(0.92);transform-origin:0 0;">36.8</div>
<div style="position:absolute;left:5px;top:108.87px;font-size:9.6px;line-height:9.6px;color:#4c4c4c;white-space:nowrap;transform:scaleX(0.92);transform-origin:0 0;">36.7</div>
<div style="position:absolute;left:5px;top:129.87px;font-size:9.6px;line-height:9.6px;color:#4c4c4c;white-space:nowrap;transform:scaleX(0.92);transform-origin:0 0;">36.6</div>
<div style="position:absolute;left:5px;top:150.87px;font-size:9.6px;line-height:9.6px;color:#4c4c4c;white-space:nowrap;transform:scaleX(0.92);transform-origin:0 0;">36.5</div>
<div style="position:absolute;left:5px;top:171.87px;font-size:9.6px;line-height:9.6px;color:#4c4c4c;white-space:nowrap;transform:scaleX(0.92);transform-origin:0 0;">36.4</div>
<div style="position:absolute;left:5px;top:192.87px;font-size:9.6px;line-height:9.6px;color:#4c4c4c;white-space:nowrap;transform:scaleX(0.92);transform-origin:0 0;">36.3</div>
<div style="position:absolute;left:5px;top:213.87px;font-size:9.6px;line-height:9.6px;color:#4c4c4c;white-space:nowrap;transform:scaleX(0.92);transform-origin:0 0;">36.2</div>
<div style="position:absolute;left:5px;top:234.87px;font-size:9.6px;line-height:9.6px;color:#4c4c4c;white-space:nowrap;transform:scaleX(0.92);transform-origin:0 0;">36.1</div>
<div style="position:absolute;left:5px;top:255.87px;font-size:9.6px;line-height:9.6px;color:#4c4c4c;white-space:nowrap;transform:scaleX(0.92);transform-origin:0 0;">36</div>
<div style="position:absolute;left:5px;top:276.87px;font-size:9.6px;line-height:9.6px;color:#4c4c4c;white-space:nowrap;transform:scaleX(0.92);transform-origin:0 0;">35.9</div>
<div style="position:absolute;left:5px;top:297.87px;font-size:9.6px;line-height:9.6px;color:#4c4c4c;white-space:nowrap;transform:scaleX(0.92);transform-origin:0 0;">35.8</div>
<div style="position:absolute;left:8.5px;top:-0.00px;font-size:13px;line-height:13px;color:#4c4c4c;white-space:nowrap;transform:scaleX(0.8);transform-origin:0 0;">°C</div>
<div style="position:absolute;left:28px;top:307.87px;font-size:9.6px;line-height:9.6px;color:#4c4c4c;white-space:nowrap;width:18px;text-align:center;transform:scaleX(0.9);transform-origin:50% 0;">01</div>
<div style="position:absolute;left:47px;top:307.87px;font-size:9.6px;line-height:9.6px;color:#4c4c4c;white-space:nowrap;width:18px;text-align:center;transform:scaleX(0.9);transform-origin:50% 0;">02</div>
<div style="position:absolute;left:66px;top:307.87px;font-size:9.6px;line-height:9.6px;color:#4c4c4c;white-space:nowrap;width:18px;text-align:center;transform:scaleX(0.9);transform-origin:50% 0;">03</div>
<div style="position:absolute;left:85px;top:307.87px;font-size:9.6px;line-height:9.6px;color:#4c4c4c;white-space:nowrap;width:18px;text-align:center;transform:scaleX(0.9);transform-origin:50% 0;">04</div>
<div style="position:absolute;left:104px;top:307.87px;font-size:9.6px;line-height:9.6px;color:#4c4c4c;white-space:nowrap;width:18px;text-align:center;transform:scaleX(0.9);transform-origin:50% 0;">05</div>
<div style="position:absolute;left:123px;top:307.87px;font-size:9.6px;line-height:9.6px;color:#4c4c4c;white-space:nowrap;width:18px;text-align:center;transform:scaleX(0.9);transform-origin:50% 0;">06</div>
<div style="position:absolute;left:142px;top:307.87px;font-size:9.6px;line-height:9.6px;color:#4c4c4c;white-space:nowrap;width:18px;text-align:center;transform:scaleX(0.9);transform-origin:50% 0;">07</div>
<div style="position:absolute;left:161px;top:307.87px;font-size:9.6px;line-height:9.6px;color:#4c4c4c;white-space:nowrap;width:18px;text-align:center;transform:scaleX(0.9);transform-origin:50% 0;">08</div>
<div style="position:absolute;left:180px;top:307.87px;font-size:9.6px;line-height:9.6px;color:#4c4c4c;white-space:nowrap;width:18px;text-align:center;transform:scaleX(0.9);transform-origin:50% 0;">09</div>
<div style="position:absolute;left:199px;top:307.87px;font-size:9.6px;line-height:9.6px;color:#4c4c4c;white-space:nowrap;width:18px;text-align:center;transform:scaleX(0.9);transform-origin:50% 0;">10</div>
<div style="position:absolute;left:218px;top:307.87px;font-size:9.6px;line-height:9.6px;color:#4c4c4c;white-space:nowrap;width:18px;text-align:center;transform:scaleX(0.9);transform-origin:50% 0;">11</div>
<div style="position:absolute;left:237px;top:307.87px;font-size:9.6px;line-height:9.6px;color:#4c4c4c;white-space:nowrap;width:18px;text-align:center;transform:scaleX(0.9);transform-origin:50% 0;">12</div>
<div style="position:absolute;left:256px;top:307.87px;font-size:9.6px;line-height:9.6px;color:#4c4c4c;white-space:nowrap;width:18px;text-align:center;transform:scaleX(0.9);transform-origin:50% 0;">13</div>
<div style="position:absolute;left:275px;top:307.87px;font-size:9.6px;line-height:9.6px;color:#4c4c4c;white-space:nowrap;width:18px;text-align:center;transform:scaleX(0.9);transform-origin:50% 0;">14</div>
<div style="position:absolute;left:294px;top:307.87px;font-size:9.6px;line-height:9.6px;color:#4c4c4c;white-space:nowrap;width:18px;text-align:center;transform:scaleX(0.9);transform-origin:50% 0;">15</div>
<div style="position:absolute;left:313px;top:307.87px;font-size:9.6px;line-height:9.6px;color:#4c4c4c;white-space:nowrap;width:18px;text-align:center;transform:scaleX(0.9);transform-origin:50% 0;">16</div>
<div style="position:absolute;left:332px;top:307.87px;font-size:9.6px;line-height:9.6px;color:#4c4c4c;white-space:nowrap;width:18px;text-align:center;transform:scaleX(0.9);transform-origin:50% 0;">17</div>
<div style="position:absolute;left:351px;top:307.87px;font-size:9.6px;line-height:9.6px;color:#4c4c4c;white-space:nowrap;width:18px;text-align:center;transform:scaleX(0.9);transform-origin:50% 0;">18</div>
<div style="position:absolute;left:370px;top:307.87px;font-size:9.6px;line-height:9.6px;color:#4c4c4c;white-space:nowrap;width:18px;text-align:center;transform:scaleX(0.9);transform-origin:50% 0;">19</div>
<div style="position:absolute;left:389px;top:307.87px;font-size:9.6px;line-height:9.6px;color:#4c4c4c;white-space:nowrap;width:18px;text-align:center;transform:scaleX(0.9);transform-origin:50% 0;">20</div>
<div style="position:absolute;left:408px;top:307.87px;font-size:9.6px;line-height:9.6px;color:#4c4c4c;white-space:nowrap;width:18px;text-align:center;transform:scaleX(0.9);transform-origin:50% 0;">21</div>
<div style="position:absolute;left:427px;top:307.87px;font-size:9.6px;line-height:9.6px;color:#4c4c4c;white-space:nowrap;width:18px;text-align:center;transform:scaleX(0.9);transform-origin:50% 0;">22</div>
<div style="position:absolute;left:446px;top:307.87px;font-size:9.6px;line-height:9.6px;color:#4c4c4c;white-space:nowrap;width:18px;text-align:center;transform:scaleX(0.9);transform-origin:50% 0;">23</div>
<div style="position:absolute;left:463.5px;top:308.27px;font-size:11.5px;line-height:11.5px;color:#4a4a4a;white-space:nowrap;width:18px;text-align:center;transform:scaleX(0.89);transform-origin:50% 0;">24</div>
<div style="position:absolute;left:484px;top:307.87px;font-size:9.6px;line-height:9.6px;color:#4c4c4c;white-space:nowrap;width:18px;text-align:center;transform:scaleX(0.9);transform-origin:50% 0;">25</div>
<div style="position:absolute;left:503px;top:307.87px;font-size:9.6px;line-height:9.6px;color:#4c4c4c;white-space:nowrap;width:18px;text-align:center;transform:scaleX(0.9);transform-origin:50% 0;">26</div>
<div style="position:absolute;left:522px;top:307.87px;font-size:9.6px;line-height:9.6px;color:#4c4c4c;white-space:nowrap;width:18px;text-align:center;transform:scaleX(0.9);transform-origin:50% 0;">27</div>
<div style="position:absolute;left:541px;top:307.87px;font-size:9.6px;line-height:9.6px;color:#4c4c4c;white-space:nowrap;width:18px;text-align:center;transform:scaleX(0.9);transform-origin:50% 0;">28</div>
<div style="position:absolute;left:560px;top:307.87px;font-size:9.6px;line-height:9.6px;color:#4c4c4c;white-space:nowrap;width:18px;text-align:center;transform:scaleX(0.9);transform-origin:50% 0;">29</div>
<div style="position:absolute;left:579px;top:307.87px;font-size:9.6px;line-height:9.6px;color:#4c4c4c;white-space:nowrap;width:18px;text-align:center;transform:scaleX(0.9);transform-origin:50% 0;">30</div>
<div style="position:absolute;left:598px;top:307.87px;font-size:9.6px;line-height:9.6px;color:#4c4c4c;white-space:nowrap;width:18px;text-align:center;transform:scaleX(0.9);transform-origin:50% 0;">31</div>
<div style="position:absolute;left:294px;top:34.87px;font-size:9.6px;line-height:9.6px;color:#4c4c4c;white-space:nowrap;width:18px;text-align:center;transform:scaleX(0.9);transform-origin:50% 0;">01</div>
<div style="position:absolute;left:313px;top:34.87px;font-size:9.6px;line-height:9.6px;color:#4c4c4c;white-space:nowrap;width:18px;text-align:center;transform:scaleX(0.9);transform-origin:50% 0;">02</div>
<div style="position:absolute;left:332px;top:34.87px;font-size:9.6px;line-height:9.6px;color:#4c4c4c;white-space:nowrap;width:18px;text-align:center;transform:scaleX(0.9);transform-origin:50% 0;">03</div>
<div style="position:absolute;left:351px;top:34.87px;font-size:9.6px;line-height:9.6px;color:#4c4c4c;white-space:nowrap;width:18px;text-align:center;transform:scaleX(0.9);transform-origin:50% 0;">04</div>
<div style="position:absolute;left:370px;top:34.87px;font-size:9.6px;line-height:9.6px;color:#4c4c4c;white-space:nowrap;width:18px;text-align:center;transform:scaleX(0.9);transform-origin:50% 0;">05</div>
<div style="position:absolute;left:389px;top:34.87px;font-size:9.6px;line-height:9.6px;color:#4c4c4c;white-space:nowrap;width:18px;text-align:center;transform:scaleX(0.9);transform-origin:50% 0;">06</div>
<div style="position:absolute;left:408px;top:34.87px;font-size:9.6px;line-height:9.6px;color:#4c4c4c;white-space:nowrap;width:18px;text-align:center;transform:scaleX(0.9);transform-origin:50% 0;">07</div>
<div style="position:absolute;left:427px;top:34.87px;font-size:9.6px;line-height:9.6px;color:#4c4c4c;white-space:nowrap;width:18px;text-align:center;transform:scaleX(0.9);transform-origin:50% 0;">08</div>
<div style="position:absolute;left:446px;top:34.87px;font-size:9.6px;line-height:9.6px;color:#4c4c4c;white-space:nowrap;width:18px;text-align:center;transform:scaleX(0.9);transform-origin:50% 0;">09</div>
<div style="position:absolute;left:465px;top:34.87px;font-size:9.6px;line-height:9.6px;color:#4c4c4c;white-space:nowrap;width:18px;text-align:center;transform:scaleX(0.9);transform-origin:50% 0;">10</div>
<div style="position:absolute;left:484px;top:34.87px;font-size:9.6px;line-height:9.6px;color:#4c4c4c;white-space:nowrap;width:18px;text-align:center;transform:scaleX(0.9);transform-origin:50% 0;">11</div>
<div style="position:absolute;left:503px;top:34.87px;font-size:9.6px;line-height:9.6px;color:#4c4c4c;white-space:nowrap;width:18px;text-align:center;transform:scaleX(0.9);transform-origin:50% 0;">12</div>
<div style="position:absolute;left:522px;top:34.87px;font-size:9.6px;line-height:9.6px;color:#4c4c4c;white-space:nowrap;width:18px;text-align:center;transform:scaleX(0.9);transform-origin:50% 0;">13</div>
<div style="position:absolute;left:541px;top:34.87px;font-size:9.6px;line-height:9.6px;color:#4c4c4c;white-space:nowrap;width:18px;text-align:center;transform:scaleX(0.9);transform-origin:50% 0;">14</div>
<div style="position:absolute;left:560px;top:34.87px;font-size:9.6px;line-height:9.6px;color:#4c4c4c;white-space:nowrap;width:18px;text-align:center;transform:scaleX(0.9);transform-origin:50% 0;">15</div>
<div style="position:absolute;left:579px;top:34.87px;font-size:9.6px;line-height:9.6px;color:#4c4c4c;white-space:nowrap;width:18px;text-align:center;transform:scaleX(0.9);transform-origin:50% 0;">16</div>
<div style="position:absolute;left:598px;top:34.87px;font-size:9.6px;line-height:9.6px;color:#4c4c4c;white-space:nowrap;width:18px;text-align:center;transform:scaleX(0.9);transform-origin:50% 0;">17</div>
<div style="position:absolute;left:28px;top:432.87px;font-size:9.6px;line-height:9.6px;color:#4c4c4c;white-space:nowrap;width:18px;text-align:center;transform:scaleX(0.9);transform-origin:50% 0;">15</div>
<div style="position:absolute;left:47px;top:432.87px;font-size:9.6px;line-height:9.6px;color:#4c4c4c;white-space:nowrap;width:18px;text-align:center;transform:scaleX(0.9);transform-origin:50% 0;">16</div>
<div style="position:absolute;left:66px;top:432.87px;font-size:9.6px;line-height:9.6px;color:#4c4c4c;white-space:nowrap;width:18px;text-align:center;transform:scaleX(0.9);transform-origin:50% 0;">17</div>
<div style="position:absolute;left:85px;top:432.87px;font-size:9.6px;line-height:9.6px;color:#f2184f;white-space:nowrap;width:18px;text-align:center;transform:scaleX(0.9);transform-origin:50% 0;">18</div>
<div style="position:absolute;left:104px;top:432.87px;font-size:9.6px;line-height:9.6px;color:#f2184f;white-space:nowrap;width:18px;text-align:center;transform:scaleX(0.9);transform-origin:50% 0;">19</div>
<div style="position:absolute;left:123px;top:432.87px;font-size:9.6px;line-height:9.6px;color:#4c4c4c;white-space:nowrap;width:18px;text-align:center;transform:scaleX(0.9);transform-origin:50% 0;">20</div>
<div style="position:absolute;left:142px;top:432.87px;font-size:9.6px;line-height:9.6px;color:#4c4c4c;white-space:nowrap;width:18px;text-align:center;transform:scaleX(0.9);transform-origin:50% 0;">21</div>
<div style="position:absolute;left:161px;top:432.87px;font-size:9.6px;line-height:9.6px;color:#4c4c4c;white-space:nowrap;width:18px;text-align:center;transform:scaleX(0.9);transform-origin:50% 0;">22</div>
<div style="position:absolute;left:180px;top:432.87px;font-size:9.6px;line-height:9.6px;color:#4c4c4c;white-space:nowrap;width:18px;text-align:center;transform:scaleX(0.9);transform-origin:50% 0;">23</div>
<div style="position:absolute;left:199px;top:432.87px;font-size:9.6px;line-height:9.6px;color:#4c4c4c;white-space:nowrap;width:18px;text-align:center;transform:scaleX(0.9);transform-origin:50% 0;">24</div>
<div style="position:absolute;left:218px;top:432.87px;font-size:9.6px;line-height:9.6px;color:#f2184f;white-space:nowrap;width:18px;text-align:center;transform:scaleX(0.9);transform-origin:50% 0;">25</div>
<div style="position:absolute;left:237px;top:432.87px;font-size:9.6px;line-height:9.6px;color:#f2184f;white-space:nowrap;width:18px;text-align:center;transform:scaleX(0.9);transform-origin:50% 0;">26</div>
<div style="position:absolute;left:256px;top:432.87px;font-size:9.6px;line-height:9.6px;color:#4c4c4c;white-space:nowrap;width:18px;text-align:center;transform:scaleX(0.9);transform-origin:50% 0;">27</div>
<div style="position:absolute;left:275px;top:432.87px;font-size:9.6px;line-height:9.6px;color:#4c4c4c;white-space:nowrap;width:18px;text-align:center;transform:scaleX(0.9);transform-origin:50% 0;">28</div>
<div style="position:absolute;left:294px;top:432.87px;font-size:9.6px;line-height:9.6px;color:#4c4c4c;white-space:nowrap;width:18px;text-align:center;transform:scaleX(0.9);transform-origin:50% 0;">29</div>
<div style="position:absolute;left:313px;top:432.87px;font-size:9.6px;line-height:9.6px;color:#4c4c4c;white-space:nowrap;width:18px;text-align:center;transform:scaleX(0.9);transform-origin:50% 0;">30</div>
<div style="position:absolute;left:332px;top:432.87px;font-size:9.6px;line-height:9.6px;color:#4c4c4c;white-space:nowrap;width:18px;text-align:center;transform:scaleX(0.9);transform-origin:50% 0;">01</div>
<div style="position:absolute;left:351px;top:432.87px;font-size:9.6px;line-height:9.6px;color:#f2184f;white-space:nowrap;width:18px;text-align:center;transform:scaleX(0.9);transform-origin:50% 0;">02</div>
<div style="position:absolute;left:370px;top:432.87px;font-size:9.6px;line-height:9.6px;color:#f2184f;white-space:nowrap;width:18px;text-align:center;transform:scaleX(0.9);transform-origin:50% 0;">03</div>
<div style="position:absolute;left:389px;top:432.87px;font-size:9.6px;line-height:9.6px;color:#4c4c4c;white-space:nowrap;width:18px;text-align:center;transform:scaleX(0.9);transform-origin:50% 0;">04</div>
<div style="position:absolute;left:408px;top:432.87px;font-size:9.6px;line-height:9.6px;color:#4c4c4c;white-space:nowrap;width:18px;text-align:center;transform:scaleX(0.9);transform-origin:50% 0;">05</div>
<div style="position:absolute;left:427px;top:432.87px;font-size:9.6px;line-height:9.6px;color:#4c4c4c;white-space:nowrap;width:18px;text-align:center;transform:scaleX(0.9);transform-origin:50% 0;">06</div>
<div style="position:absolute;left:446px;top:432.87px;font-size:9.6px;line-height:9.6px;color:#4c4c4c;white-space:nowrap;width:18px;text-align:center;transform:scaleX(0.9);transform-origin:50% 0;">07</div>
<div style="position:absolute;left:463.5px;top:431.27px;font-size:11.5px;line-height:11.5px;color:#4a4a4a;white-space:nowrap;width:18px;text-align:center;transform:scaleX(0.89);transform-origin:50% 0;">08</div>
<div style="position:absolute;left:484px;top:432.87px;font-size:9.6px;line-height:9.6px;color:#f2184f;white-space:nowrap;width:18px;text-align:center;transform:scaleX(0.9);transform-origin:50% 0;">09</div>
<div style="position:absolute;left:503px;top:432.87px;font-size:9.6px;line-height:9.6px;color:#f2184f;white-space:nowrap;width:18px;text-align:center;transform:scaleX(0.9);transform-origin:50% 0;">10</div>
<div style="position:absolute;left:522px;top:432.87px;font-size:9.6px;line-height:9.6px;color:#4c4c4c;white-space:nowrap;width:18px;text-align:center;transform:scaleX(0.9);transform-origin:50% 0;">11</div>
<div style="position:absolute;left:541px;top:432.87px;font-size:9.6px;line-height:9.6px;color:#4c4c4c;white-space:nowrap;width:18px;text-align:center;transform:scaleX(0.9);transform-origin:50% 0;">12</div>
<div style="position:absolute;left:560px;top:432.87px;font-size:9.6px;line-height:9.6px;color:#4c4c4c;white-space:nowrap;width:18px;text-align:center;transform:scaleX(0.9);transform-origin:50% 0;">13</div>
<div style="position:absolute;left:579px;top:432.87px;font-size:9.6px;line-height:9.6px;color:#4c4c4c;white-space:nowrap;width:18px;text-align:center;transform:scaleX(0.9);transform-origin:50% 0;">14</div>
<div style="position:absolute;left:598px;top:432.87px;font-size:9.6px;line-height:9.6px;color:#4c4c4c;white-space:nowrap;width:18px;text-align:center;transform:scaleX(0.9);transform-origin:50% 0;">15</div>
<div style="position:absolute;left:27px;top:447.69px;font-size:11px;line-height:11px;color:#4c4c4c;white-space:nowrap;">Июнь</div>
<div style="position:absolute;left:335px;top:447.69px;font-size:11px;line-height:11px;color:#4c4c4c;white-space:nowrap;">Июль</div>
<div style="position:absolute;left:55px;top:10.96px;font-size:9.5px;line-height:9.5px;color:#4a4a4a;white-space:nowrap;transform:scaleX(0.975);transform-origin:0 0;">Средняя t° 1 фаза</div>
<div style="position:absolute;left:138.5px;top:9.18px;font-size:11.6px;line-height:11.6px;color:#4a4a4a;white-space:nowrap;transform:scaleX(0.93);transform-origin:0 0;">36.3 °C</div>
<div style="position:absolute;left:305px;top:10.96px;font-size:9.5px;line-height:9.5px;color:#4a4a4a;white-space:nowrap;transform:scaleX(0.95);transform-origin:0 0;">2 фаза</div>
<div style="position:absolute;left:338.7px;top:9.18px;font-size:11.6px;line-height:11.6px;color:#4a4a4a;white-space:nowrap;transform:scaleX(0.93);transform-origin:0 0;">36.6 °C</div>
<div style="position:absolute;left:395px;top:10.96px;font-size:9.5px;line-height:9.5px;color:#4a4a4a;white-space:nowrap;transform:scaleX(0.975);transform-origin:0 0;">Разница t°</div>
<div style="position:absolute;left:444px;top:9.18px;font-size:11.6px;line-height:11.6px;color:#4a4a4a;white-space:nowrap;transform:scaleX(0.93);transform-origin:0 0;">0.3 °C</div>
<div style="position:absolute;left:273.5px;top:33.2px;width:18px;height:60px;"><div style="position:absolute;left:0;top:60px;width:60px;height:18px;line-height:18px;font-size:9.4px;letter-spacing:0.15px;-webkit-text-stroke:0.1px;color:#4c4c4c;transform:rotate(-90deg);transform-origin:0 0;text-align:right;white-space:nowrap">ОВУЛЯЦИЯ</div></div>
<div style="position:absolute;left:31.5px;top:480.27px;font-size:11.5px;line-height:11.5px;color:#222;white-space:nowrap;font-weight:bold;transform:scaleX(0.915);transform-origin:0 0;">Менструация</div>
<div style="position:absolute;left:51px;top:499.69px;font-size:11px;line-height:11px;color:#2e2e2e;white-space:nowrap;transform:scaleX(0.925);transform-origin:0 0;-webkit-text-stroke:0.32px;">Менструация</div>
<div style="position:absolute;left:51px;top:521.19px;font-size:11px;line-height:11px;color:#2e2e2e;white-space:nowrap;transform:scaleX(0.925);transform-origin:0 0;-webkit-text-stroke:0.32px;">Небольшие выделения</div>
<div style="position:absolute;left:186px;top:480.27px;font-size:11.5px;line-height:11.5px;color:#222;white-space:nowrap;font-weight:bold;transform:scaleX(0.885);transform-origin:0 0;">Тест на овуляцию</div>
<div style="position:absolute;left:205px;top:499.69px;font-size:11px;line-height:11px;color:#2e2e2e;white-space:nowrap;transform:scaleX(0.925);transform-origin:0 0;-webkit-text-stroke:0.32px;">Положительный</div>
<div style="position:absolute;left:205px;top:521.19px;font-size:11px;line-height:11px;color:#2e2e2e;white-space:nowrap;transform:scaleX(0.925);transform-origin:0 0;-webkit-text-stroke:0.32px;">Отрицательный</div>
<div style="position:absolute;left:316px;top:480.27px;font-size:11.5px;line-height:11.5px;color:#222;white-space:nowrap;font-weight:bold;transform:scaleX(0.895);transform-origin:0 0;">Тест на беременность</div>
<div style="position:absolute;left:335px;top:499.69px;font-size:11px;line-height:11px;color:#2e2e2e;white-space:nowrap;transform:scaleX(0.925);transform-origin:0 0;-webkit-text-stroke:0.32px;">Положительный</div>
<div style="position:absolute;left:335px;top:521.19px;font-size:11px;line-height:11px;color:#2e2e2e;white-space:nowrap;transform:scaleX(0.925);transform-origin:0 0;-webkit-text-stroke:0.32px;">Отрицательный</div>
<div style="position:absolute;left:335px;top:540.69px;font-size:11px;line-height:11px;color:#2e2e2e;white-space:nowrap;transform:scaleX(0.925);transform-origin:0 0;-webkit-text-stroke:0.32px;">Слабоположительный</div>
<div style="position:absolute;left:471.5px;top:480.27px;font-size:11.5px;line-height:11.5px;color:#222;white-space:nowrap;font-weight:bold;transform:scaleX(0.912);transform-origin:0 0;">Цервикальная жидкость</div>
<div style="position:absolute;left:492px;top:502.19px;font-size:11px;line-height:11px;color:#2e2e2e;white-space:nowrap;transform:scaleX(0.925);transform-origin:0 0;-webkit-text-stroke:0.32px;">Сухо</div>
<div style="position:absolute;left:492px;top:522.99px;font-size:11px;line-height:11px;color:#2e2e2e;white-space:nowrap;transform:scaleX(0.925);transform-origin:0 0;-webkit-text-stroke:0.32px;">Клейкая</div>
<div style="position:absolute;left:492px;top:542.69px;font-size:11px;line-height:11px;color:#2e2e2e;white-space:nowrap;transform:scaleX(0.925);transform-origin:0 0;-webkit-text-stroke:0.32px;">Кремообразная</div>
<div style="position:absolute;left:492px;top:562.99px;font-size:11px;line-height:11px;color:#2e2e2e;white-space:nowrap;transform:scaleX(0.925);transform-origin:0 0;-webkit-text-stroke:0.32px;">Водянистая</div>
<div style="position:absolute;left:492px;top:582.99px;font-size:11px;line-height:11px;color:#2e2e2e;white-space:nowrap;transform:scaleX(0.925);transform-origin:0 0;-webkit-text-stroke:0.32px;">Яичный белок</div>
<div style="position:absolute;left:51px;top:582.69px;font-size:11px;line-height:11px;color:#2e2e2e;white-space:nowrap;transform:scaleX(0.925);transform-origin:0 0;-webkit-text-stroke:0.32px;">Половой акт</div>
<div style="position:absolute;left:151.5px;top:582.69px;font-size:11px;line-height:11px;color:#2e2e2e;white-space:nowrap;transform:scaleX(0.925);transform-origin:0 0;-webkit-text-stroke:0.32px;">Прием лекарств</div>
<div style="position:absolute;left:271px;top:582.69px;font-size:11px;line-height:11px;color:#2e2e2e;white-space:nowrap;transform:scaleX(0.925);transform-origin:0 0;-webkit-text-stroke:0.32px;">Лунный календарь</div>
</div>
</body></html>
